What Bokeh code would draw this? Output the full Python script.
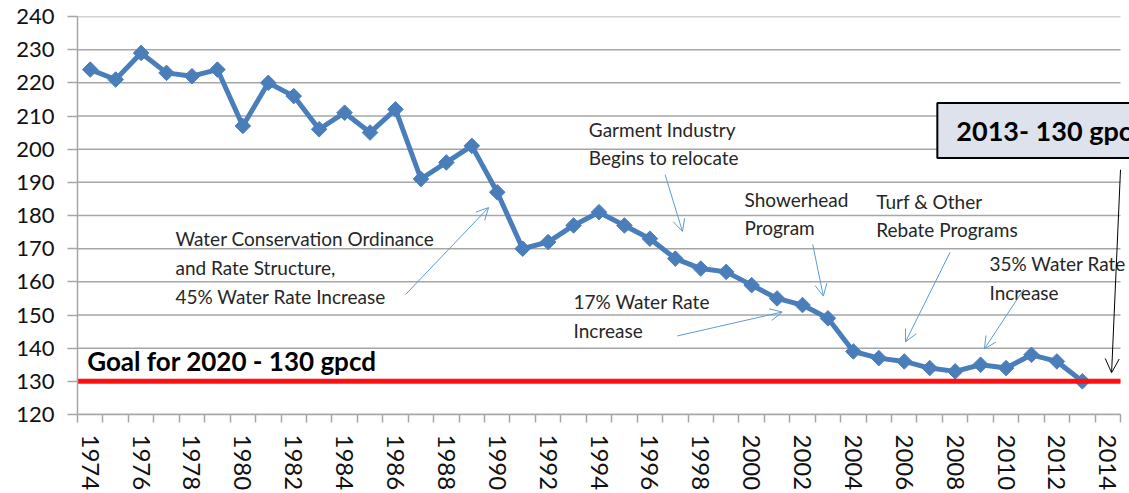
import numpy as np
from bokeh.plotting import figure
from bokeh.models import (Range1d, FixedTicker, Label, Arrow, OpenHead,
                          ColumnDataSource)
from bokeh.embed import file_html
from bokeh.resources import INLINE

# ---- data ----
years = list(range(1974, 2014))
gpcd = [224, 221, 229, 223, 222, 224, 207, 220, 216, 206,
        211, 205, 212, 191, 196, 201, 187, 170, 172, 177,
        181, 177, 173, 167, 164, 163, 159, 155, 153, 149,
        139, 137, 136, 134, 133, 135, 134, 138, 136, 130]
axis_years = list(range(1974, 2015))
tick_label_years = list(range(1974, 2015, 2))
y_ticks = list(range(120, 250, 10))
goal_value = 130
goal_text = "Goal for 2020 - 130 gpcd"
box_text = "2013- 130 gpcd"

# annotation texts with anchor (year, gpcd) of their top-left corner
notes = [
    ("Water Conservation Ordinance\nand Rate Structure,\n45% Water Rate Increase", 1977.35, 176.5),
    ("Garment Industry\nBegins to relocate", 1993.6, 209.5),
    ("Showerhead\nProgram", 1999.72, 188.4),
    ("Turf  & Other\nRebate Programs", 2004.9, 187.8),
    ("17% Water Rate\nIncrease", 1993.0, 157.4),
    ("35% Water Rate\nIncrease", 2009.35, 169.0),
]
# arrows: (x_start, y_start, x_end, y_end) in (year, gpcd)
arrows_blue = [
    (1986.4, 156.2, 1989.66, 182.4),
    (1996.6, 192.3, 1997.28, 175.2),
    (2002.4, 171.3, 2002.82, 155.7),
    (2007.8, 168.9, 2006.05, 141.9),
    (1997.08, 143.7, 2001.2, 150.9),
    (2010.7, 157.8, 2009.15, 139.8),
]
arrow_black = (2014.5, 193.8, 2014.15, 132.6)

FONT = "Lato"
TEXT_COLOR = "#262626"
GRID = "#a6a6a6"
SERIES = "#4a7ebb"
ARROW_BLUE = "#5b9bd5"

x_lo = axis_years[0] - 0.5
x_hi = axis_years[-1] + 0.5
px_per_year = (1129 - 77 - 9) / (x_hi - x_lo)

p = figure(width=1129, height=493, output_backend="svg", toolbar_location=None,
           x_range=Range1d(x_lo, x_hi + 9 / px_per_year),
           y_range=Range1d(y_ticks[0], y_ticks[-1]),
           min_border_left=77, min_border_right=0, min_border_top=16,
           min_border_bottom=77)
p.outline_line_color = None
p.background_fill_color = "white"

# gridlines limited to the category span
n = len(y_ticks)
p.segment(x0=[x_lo] * n, x1=[x_hi] * n, y0=y_ticks, y1=y_ticks,
          line_color=GRID, line_width=1.5, level="underlay")

# x axis
p.xaxis.bounds = (x_lo, x_hi)
p.xaxis.ticker = FixedTicker(ticks=tick_label_years,
                             minor_ticks=[y - 0.5 for y in axis_years] + [x_hi])
p.xaxis.major_tick_line_color = None
p.xaxis.minor_tick_out = 8
p.xaxis.minor_tick_in = 0
p.xaxis.minor_tick_line_color = GRID
p.xaxis.minor_tick_line_width = 1.5
p.xaxis.axis_line_color = GRID
p.xaxis.axis_line_width = 1.5
p.xaxis.major_label_orientation = "vertical"
p.xaxis.major_label_text_font = FONT
p.xaxis.major_label_text_font_size = "24px"
p.xaxis.major_label_text_color = "#111111"
p.xaxis.major_label_standoff = 12

# y axis
p.yaxis.ticker = FixedTicker(ticks=y_ticks)
p.yaxis.major_tick_out = 10
p.yaxis.major_tick_in = 0
p.yaxis.major_tick_line_color = GRID
p.yaxis.major_tick_line_width = 1.5
p.yaxis.minor_tick_line_color = None
p.yaxis.axis_line_color = GRID
p.yaxis.axis_line_width = 1.5
p.yaxis.major_label_text_font = FONT
p.yaxis.major_label_text_font_size = "22px"
p.yaxis.major_label_text_color = "#111111"
p.yaxis.major_label_standoff = 13

p.xgrid.visible = False
p.ygrid.visible = False

# series
src = ColumnDataSource(dict(x=years, y=gpcd))
p.line("x", "y", source=src, line_color=SERIES, line_width=5)
p.scatter("x", "y", source=src, marker="square", angle=np.pi / 4, size=11,
          fill_color=SERIES, line_color=SERIES)

# goal line
p.line(x=[x_lo, x_hi], y=[goal_value, goal_value], line_color="#ff1010",
       line_width=5)
p.add_layout(Label(x=axis_years[0] - 0.12, y=136.2, text=goal_text, text_font=FONT,
                   text_font_style="bold", text_font_size="26px",
                   text_color="black", text_baseline="alphabetic"))

# notes
for txt, x, y in notes:
    p.add_layout(Label(x=x, y=y, text=txt, text_font=FONT, text_font_size="19px",
                       text_color=TEXT_COLOR, text_baseline="top",
                       text_line_height=1.25))

for xs, ys, xe, ye in arrows_blue:
    p.add_layout(Arrow(x_start=xs, y_start=ys, x_end=xe, y_end=ye,
                       line_color=ARROW_BLUE, line_width=1,
                       end=OpenHead(size=12, line_color=ARROW_BLUE, line_width=1)))
xs, ys, xe, ye = arrow_black
p.add_layout(Arrow(x_start=xs, y_start=ys, x_end=xe, y_end=ye,
                   line_color="black", line_width=1,
                   end=OpenHead(size=14, line_color="black", line_width=1)))

# 2013 box
p.add_layout(Label(x=2007.3, y=213.9, text=box_text, text_font=FONT,
                   text_font_style="bold", text_font_size="27px",
                   text_color="black", text_baseline="top",
                   background_fill_color="#dde2ed", border_line_color="black",
                   border_line_width=2, padding=(19, 11)))

open("out.html", "w").write(file_html(p, INLINE))
